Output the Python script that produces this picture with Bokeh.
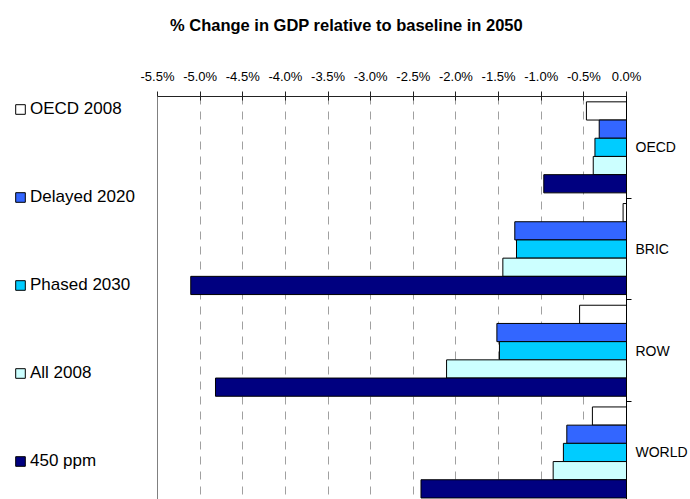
from bokeh.plotting import figure
from bokeh.layouts import row, column
from bokeh.models import (Range1d, LinearAxis, FixedTicker, PrintfTickFormatter,
                          Legend, LegendItem, Label, ColumnDataSource)
from bokeh.transform import dodge
from bokeh.embed import file_html
from bokeh.resources import INLINE

# ---------------- data ----------------
title_text = "% Change in GDP relative to baseline in 2050"
categories = ["OECD", "BRIC", "ROW", "WORLD"]
series_names = ["OECD 2008", "Delayed 2020", "Phased 2030", "All 2008", "450 ppm"]
oecd_2008 = [-0.47, -0.04, -0.55, -0.40]
delayed_2020 = [-0.32, -1.31, -1.52, -0.70]
phased_2030 = [-0.37, -1.29, -1.49, -0.74]
all_2008 = [-0.39, -1.45, -2.11, -0.86]
ppm_450 = [-0.97, -5.11, -4.82, -2.41]
x_ticks = [-5.5, -5.0, -4.5, -4.0, -3.5, -3.0, -2.5, -2.0, -1.5, -1.0, -0.5, 0.0]

# ---------------- style ----------------
colors = ["#FFFFFF", "#3366FF", "#00CCFF", "#CCFFFF", "#000080"]
FONT = "Liberation Sans"
W, H = 690, 499
TITLE_H = 40
BODY_H = H - TITLE_H
LEG_W = 137
FRAME_LEFT = 157
FRAME_TOP = 96
BORDER_R = 62
FRAME_H = H - FRAME_TOP
cat_px = 101.7
bar_h = 0.179

series_values = [oecd_2008, delayed_2020, phased_2030, all_2008, ppm_450]
n_cat = len(categories)
cat_pos = [i + 0.5 for i in range(n_cat)]

data = {"cat": cat_pos}
for k, vals in enumerate(series_values):
    data["s%d" % k] = vals
source = ColumnDataSource(data)

# ---------------- title strip ----------------
tf = figure(width=W, height=TITLE_H, output_backend="svg", toolbar_location=None,
            x_range=Range1d(0, 1), y_range=Range1d(0, 1),
            x_axis_location=None, y_axis_location=None,
            min_border_left=0, min_border_top=0, min_border_right=0, min_border_bottom=0)
tf.outline_line_color = None
tf.background_fill_color = "white"
tf.border_fill_color = "white"
tf.grid.visible = False
tf.add_layout(Label(x=346, y=TITLE_H - 24.5, x_units="screen", y_units="screen",
                    text=title_text, text_align="center", text_baseline="middle",
                    text_font=FONT, text_font_style="bold", text_font_size="16.5px",
                    text_color="black"))

# ---------------- main chart ----------------
p = figure(width=W - LEG_W, height=BODY_H, output_backend="svg", toolbar_location=None,
           x_range=Range1d(x_ticks[0], x_ticks[-1]),
           y_range=Range1d(FRAME_H / cat_px, 0),
           x_axis_location="above", y_axis_location=None,
           min_border_left=FRAME_LEFT - LEG_W, min_border_top=FRAME_TOP - TITLE_H,
           min_border_right=BORDER_R, min_border_bottom=0)
p.outline_line_color = None
p.background_fill_color = "white"
p.border_fill_color = "white"

xt = FixedTicker(ticks=x_ticks)
xa = p.xaxis[0]
xa.ticker = xt
xa.formatter = PrintfTickFormatter(format="%.1f%%")
xa.major_label_text_font = FONT
xa.major_label_text_font_size = "13px"
xa.major_label_text_color = "black"
xa.major_tick_in = 4
xa.major_tick_out = 5
xa.minor_tick_in = 0
xa.minor_tick_out = 0
xa.major_label_standoff = 8
xa.axis_line_color = "#222222"
xa.major_tick_line_color = "#222222"

p.xgrid.ticker = xt
p.xgrid.grid_line_color = "#a0a0a0"
p.xgrid.grid_line_dash = "8 7"
p.xgrid.grid_line_width = 1
p.ygrid.visible = False

# left border as bare axis
la = LinearAxis(ticker=FixedTicker(ticks=[]), major_label_text_font_size="0px",
                major_tick_in=0, major_tick_out=0, minor_tick_in=0, minor_tick_out=0,
                major_label_standoff=0, axis_line_color="#808080")
p.add_layout(la, "left")

# right category axis
ra = LinearAxis(ticker=FixedTicker(ticks=cat_pos,
                                   minor_ticks=[i for i in range(1, n_cat)]),
                major_label_overrides={pos: name for pos, name in zip(cat_pos, categories)},
                major_tick_in=0, major_tick_out=0, minor_tick_in=0, minor_tick_out=5,
                major_label_standoff=4, axis_line_color="black",
                minor_tick_line_color="black",
                major_label_text_font=FONT, major_label_text_font_size="14px",
                major_label_text_color="black")
p.add_layout(ra, "right")

for k, name in enumerate(series_names):
    off = (k - 2) * bar_h
    p.hbar(y=dodge("cat", off, range=p.y_range), left="s%d" % k, right=0,
           height=bar_h, source=source, fill_color=colors[k],
           line_color="#000000", line_width=1)

# ---------------- legend panel ----------------
lf = figure(width=LEG_W, height=BODY_H, output_backend="svg", toolbar_location=None,
            x_range=Range1d(0, 1), y_range=Range1d(0, 1),
            x_axis_location=None, y_axis_location=None,
            min_border_left=0, min_border_top=0, min_border_right=0, min_border_bottom=0)
lf.outline_line_color = None
lf.background_fill_color = "white"
lf.border_fill_color = "white"
lf.grid.visible = False

items = []
for k, name in enumerate(series_names):
    r = lf.hbar(y="cat", left="s%d" % k, right=0, height=bar_h, source=source,
                fill_color=colors[k], line_color="#000000", line_width=1,
                visible=False)
    items.append(LegendItem(label=name, renderers=[r]))

n_items = len(series_names)
label_h, spacing = 22, 66
legend_h = n_items * label_h + (n_items - 1) * spacing
legend = Legend(items=items, location=(14, H - FRAME_TOP - 1.5 - legend_h),
                orientation="vertical", padding=0, margin=0, click_policy="none",
                spacing=spacing, label_height=label_h, glyph_height=12, glyph_width=12,
                label_standoff=4, label_text_font=FONT,
                label_text_font_size="17px", label_text_color="black",
                border_line_alpha=0, background_fill_alpha=0)
lf.add_layout(legend, "center")

open("out.html", "w").write(file_html(column(tf, row(lf, p)), INLINE))
